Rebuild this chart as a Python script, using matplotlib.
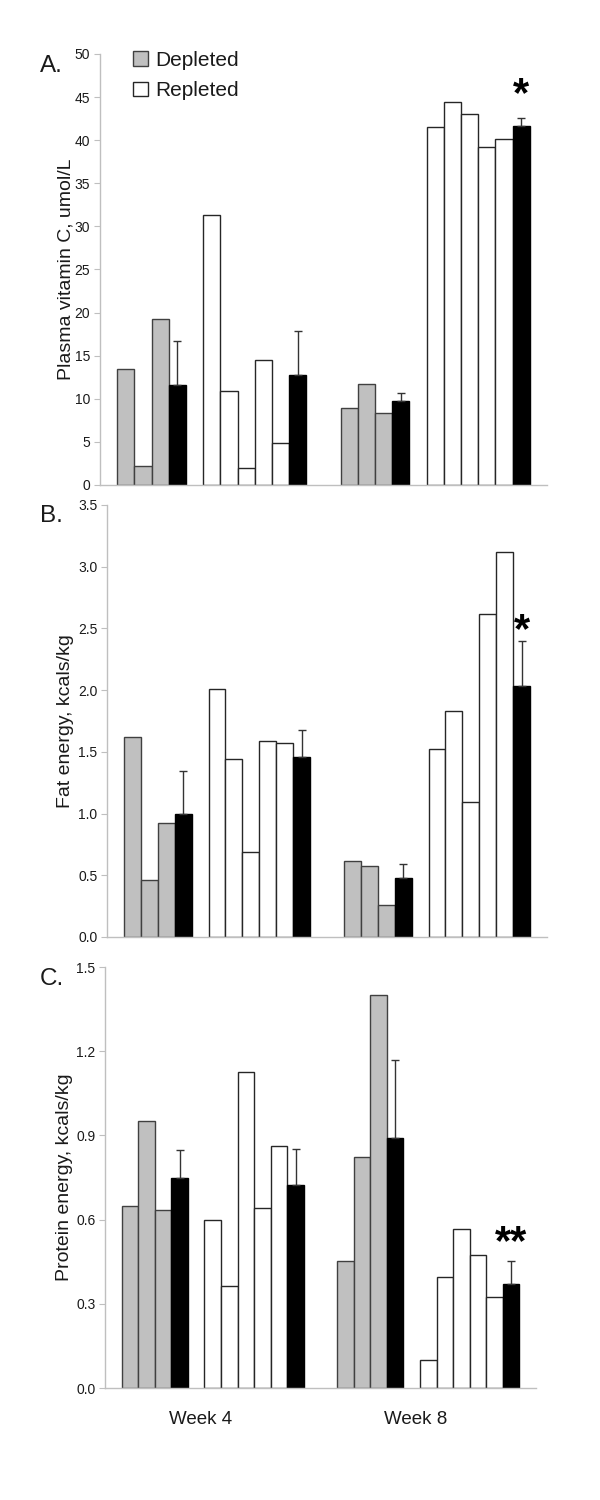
#!/usr/bin/env python3
"""Plasma vitamin C, fat energy and protein energy by week (depleted vs repleted)."""

import matplotlib

matplotlib.use("Agg")

import matplotlib.pyplot as plt  # noqa: E402
from matplotlib.patches import Patch  # noqa: E402

plt.rcParams["font.family"] = ["Liberation Sans", "DejaVu Sans"]

WEEKS = ["Week 4", "Week 8"]

# Panel A: plasma vitamin C, umol/L
vitc_depleted = [[13.45, 2.24, 19.3], [8.89, 11.75, 8.35]]
vitc_depleted_mean = [11.63, 9.7]
vitc_depleted_err = [5.06, 0.93]
vitc_repleted = [[31.34, 10.94, 2.0, 14.5, 4.87], [41.54, 44.44, 43.0, 39.26, 40.1]]
vitc_repleted_mean = [12.75, 41.65]
vitc_repleted_err = [5.1, 0.89]

# Panel B: fat energy, kcals/kg
fat_depleted = [[1.62, 0.465, 0.927], [0.616, 0.578, 0.26]]
fat_depleted_mean = [1.0, 0.478]
fat_depleted_err = [0.343, 0.117]
fat_repleted = [[2.01, 1.446, 0.69, 1.589, 1.568], [1.52, 1.83, 1.09, 2.62, 3.12]]
fat_repleted_mean = [1.46, 2.03]
fat_repleted_err = [0.22, 0.37]

# Panel C: protein energy, kcals/kg
prot_depleted = [[0.649, 0.95, 0.634], [0.451, 0.822, 1.40]]
prot_depleted_mean = [0.747, 0.889]
prot_depleted_err = [0.10, 0.278]
prot_repleted = [[0.598, 0.365, 1.127, 0.642, 0.864], [0.10, 0.394, 0.566, 0.473, 0.326]]
prot_repleted_mean = [0.722, 0.372]
prot_repleted_err = [0.128, 0.079]

GRAY = "#C0C0C0"
AXIS_GRAY = "#BFBFBF"
TEXT = "#1a1a1a"
SLOTS = 13  # 11 bar slots plus one slot margin each side of a category
BAR_W = 1 / SLOTS


def _slot_x(week: int, slot: int) -> float:
    return week + (slot - 5) * BAR_W


def draw_panel(ax, dep, dep_mean, dep_err, rep, rep_mean, rep_err, star, star_y):
    for w in range(len(WEEKS)):
        for i, v in enumerate(dep[w]):
            ax.bar(_slot_x(w, i), v, BAR_W, color=GRAY, edgecolor="#404040", linewidth=1.0)
        ax.bar(_slot_x(w, 3), dep_mean[w], BAR_W, color="black", edgecolor="black", linewidth=1.0)
        ax.errorbar(_slot_x(w, 3), dep_mean[w], yerr=[[0], [dep_err[w]]], color="#333333",
                    capsize=3, elinewidth=1.0, capthick=1.0)
        for i, v in enumerate(rep[w]):
            ax.bar(_slot_x(w, 5 + i), v, BAR_W, color="white", edgecolor="#262626", linewidth=1.0)
        ax.bar(_slot_x(w, 10), rep_mean[w], BAR_W, color="black", edgecolor="black", linewidth=1.0)
        ax.errorbar(_slot_x(w, 10), rep_mean[w], yerr=[[0], [rep_err[w]]], color="#333333",
                    capsize=3, elinewidth=1.0, capthick=1.0)

    ax.text(_slot_x(1, 10), star_y, star, ha="center", va="baseline",
            fontsize=30, fontweight="bold", color="black")

    ax.set_xlim(-0.5, 1.5)
    for side in ("top", "right"):
        ax.spines[side].set_visible(False)
    for side in ("left", "bottom"):
        ax.spines[side].set_color(AXIS_GRAY)
        ax.spines[side].set_linewidth(1.0)
    ax.tick_params(axis="y", length=4, color=AXIS_GRAY, labelsize=10, labelcolor=TEXT, pad=3)
    ax.tick_params(axis="x", length=0)


def main() -> None:
    fig = plt.figure(figsize=(6, 15), dpi=100)

    ax_a = fig.add_axes([100 / 600, 1 - 485 / 1500, 447 / 600, 431 / 1500])
    ax_b = fig.add_axes([107 / 600, 1 - 937 / 1500, 440 / 600, 432 / 1500])
    ax_c = fig.add_axes([105 / 600, 1 - 1388 / 1500, 431 / 600, 421 / 1500])

    draw_panel(ax_a, vitc_depleted, vitc_depleted_mean, vitc_depleted_err,
               vitc_repleted, vitc_repleted_mean, vitc_repleted_err, "*", 44.0)
    ax_a.set_ylim(0, 50)
    ax_a.set_yticks(range(0, 51, 5))
    ax_a.set_xticks([])
    ax_a.set_ylabel("Plasma vitamin C, umol/L", fontsize=14, color=TEXT)
    ax_a.yaxis.set_label_coords(-0.058, 0.5)

    draw_panel(ax_b, fat_depleted, fat_depleted_mean, fat_depleted_err,
               fat_repleted, fat_repleted_mean, fat_repleted_err, "*", 2.39)
    ax_b.set_ylim(0, 3.5)
    ax_b.set_yticks([0, 0.5, 1.0, 1.5, 2.0, 2.5, 3.0, 3.5])
    ax_b.set_yticklabels([f"{t:.1f}" for t in ax_b.get_yticks()])
    ax_b.set_xticks([])
    ax_b.set_ylabel("Fat energy, kcals/kg", fontsize=14, color=TEXT)
    ax_b.yaxis.set_label_coords(-0.075, 0.5)

    draw_panel(ax_c, prot_depleted, prot_depleted_mean, prot_depleted_err,
               prot_repleted, prot_repleted_mean, prot_repleted_err, "**", 0.476)
    ax_c.set_ylim(0, 1.5)
    ax_c.set_yticks([0, 0.3, 0.6, 0.9, 1.2, 1.5])
    ax_c.set_yticklabels([f"{t:.1f}" for t in ax_c.get_yticks()])
    ax_c.set_xticks([w - 0.058 for w in range(len(WEEKS))])
    ax_c.set_xticklabels(WEEKS, fontsize=13.5, color=TEXT)
    ax_c.tick_params(axis="x", pad=16.5)
    ax_c.set_ylabel("Protein energy, kcals/kg", fontsize=14, color=TEXT)
    ax_c.yaxis.set_label_coords(-0.074, 0.5)

    for label, y in (("A.", 72), ("B.", 522), ("C.", 985)):
        fig.text(40 / 600, 1 - y / 1500, label, fontsize=17.5, color=TEXT, va="baseline")

    handles = [
        Patch(facecolor=GRAY, edgecolor="#404040", linewidth=1.0),
        Patch(facecolor="white", edgecolor="#262626", linewidth=1.0),
    ]
    fig.legend(handles, ["Depleted", "Repleted"], loc="upper left",
               bbox_to_anchor=(133 / 600, 1 - 51 / 1500), frameon=False, fontsize=15,
               handlelength=0.7, handleheight=0.7, handletextpad=0.35,
               labelspacing=0.55, borderpad=0, borderaxespad=0, labelcolor=TEXT)

    fig.savefig("out.png", dpi=100)
    plt.close(fig)


if __name__ == "__main__":
    main()
